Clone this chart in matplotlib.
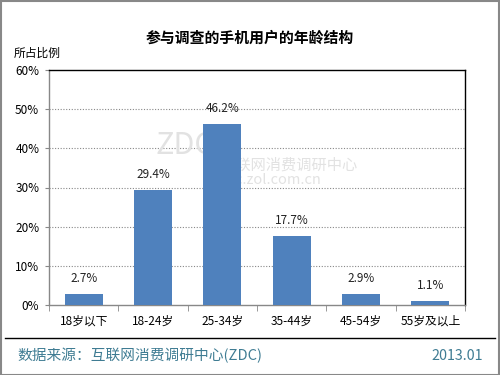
import matplotlib
matplotlib.use("Agg")
import matplotlib.pyplot as plt
import matplotlib.lines as mlines
import matplotlib.patches as mpatches

plt.rcParams["font.family"] = ["Noto Sans CJK SC", "DejaVu Sans"]

# data
age_groups = ["18岁以下", "18-24岁", "25-34岁", "35-44岁", "45-54岁", "55岁及以上"]
shares = [2.7, 29.4, 46.2, 17.7, 2.9, 1.1]
y_ticks = [0, 10, 20, 30, 40, 50, 60]

title = "参与调查的手机用户的年龄结构"
y_label = "所占比例"
source = "数据来源：互联网消费调研中心(ZDC)"
date = "2013.01"

BAR_COLOR = "#4f81bd"
FOOT_COLOR = "#3f7c93"


def main():
    fig = plt.figure(figsize=(5, 3.75), dpi=100)
    ax = fig.add_axes([0.098, 0.187, 0.832, 0.626])

    x = list(range(len(age_groups)))
    ax.bar(x, shares, width=0.55, color=BAR_COLOR, zorder=3)
    for xi, v in zip(x, shares):
        ax.text(xi, v + 2.3, f"{v}%", ha="center", va="bottom", fontsize=8.5,
                color="#222222", zorder=4)

    ax.set_xlim(-0.5, len(age_groups) - 0.5)
    ax.set_ylim(0, 60)
    ax.set_yticks(y_ticks)
    ax.set_yticklabels([f"{t}%" for t in y_ticks], fontsize=8.5)
    ax.set_xticks(x)
    ax.set_xticklabels(age_groups, fontsize=8.5)
    ax.tick_params(axis="x", length=0, pad=7)
    ax.set_xticks([i + 0.5 for i in range(-1, len(age_groups))], minor=True)
    ax.tick_params(axis="x", which="minor", length=4, color="#888888")
    ax.tick_params(axis="y", length=3, color="#888888", pad=4)

    for t in y_ticks[1:-1]:
        ax.axhline(t, color="#888888", lw=0.8, ls=(0, (1, 1.5)), zorder=1)

    ax.spines["left"].set_color("#888888")
    ax.spines["bottom"].set_color("#888888")
    ax.spines["top"].set_color("black")
    ax.spines["right"].set_color("black")
    for s in ax.spines.values():
        s.set_linewidth(1)

    # faint watermark, kept behind the bars
    wm = dict(color="#e2e2e2", transform=fig.transFigure, zorder=2)
    ax.text(0.37, 0.59, "ZDC", fontsize=22, ha="center", va="baseline",
            fontweight="light", **wm)
    ax.text(0.44, 0.56, "互联网消费调研中心", fontsize=11, ha="left",
            va="center", **wm)
    ax.text(0.44, 0.52, "zdc.zol.com.cn", fontsize=10.5, ha="left",
            va="center", **wm)

    fig.text(0.5, 0.9, title, ha="center", va="center", fontsize=10.7,
             fontweight="bold")
    fig.text(0.028, 0.859, y_label, ha="left", va="center", fontsize=8.5)

    fig.add_artist(mlines.Line2D([0.01, 0.99], [0.0987, 0.0987],
                                 color="black", lw=1))
    fig.text(0.034, 0.051, source, ha="left", va="center", fontsize=10.6,
             color=FOOT_COLOR)
    fig.text(0.966, 0.051, date, ha="right", va="center", fontsize=10.3,
             color=FOOT_COLOR)

    fig.add_artist(mpatches.Rectangle((0.001, 0.001), 0.997, 0.997,
                                      fill=False, ec="#888888", lw=1.5,
                                      transform=fig.transFigure))

    fig.savefig("out.png", dpi=100)


if __name__ == "__main__":
    main()
